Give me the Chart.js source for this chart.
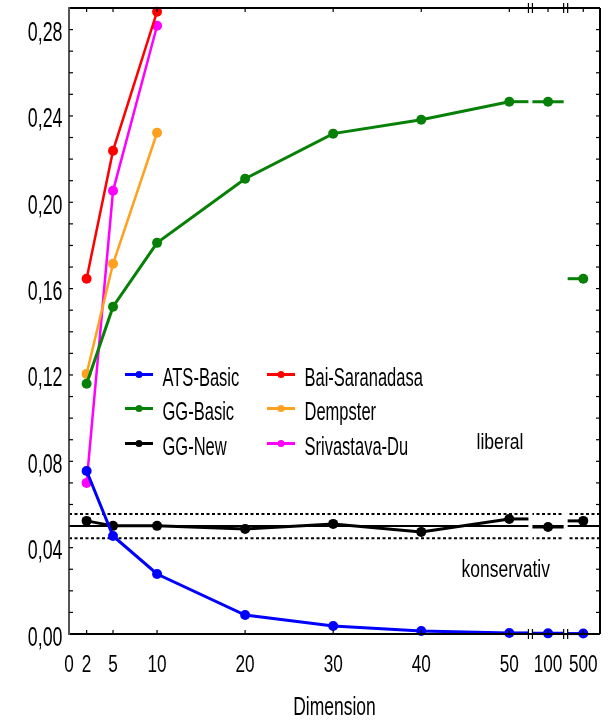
<!DOCTYPE html>
<html>
<head>
<meta charset="utf-8">
<script src="https://cdn.jsdelivr.net/npm/chart.js@4.4.0/dist/chart.umd.min.js"></script>
<style>
  html, body { margin: 0; padding: 0; background: #fff; }
  #wrap { width: 616px; height: 720px; }
</style>
</head>
<body>
<div id="wrap"><canvas id="myChart"></canvas></div>
<script>
'use strict';

// data
let dims = [2, 5, 10, 20, 30, 40, 50, 100, 500];
let dimsShort = [2, 5, 10];
let xTickLabels = [0, 2, 5, 10, 20, 30, 40, 50, 100, 500];
let yTickValues = [0, 0.04, 0.08, 0.12, 0.16, 0.20, 0.24, 0.28];

let atsBasic = [0.0755, 0.0454, 0.0278, 0.0088, 0.0037, 0.0014, 0.0005, 0.0003, 0.0002];
let ggBasic = [0.1159, 0.1516, 0.1812, 0.2109, 0.2318, 0.2382, 0.2466, 0.2466, 0.1646];
let ggNew = [0.0524, 0.0501, 0.0501, 0.0487, 0.0510, 0.0473, 0.0533, 0.0496, 0.0524];
let baiSaranadasa = [0.1646, 0.2239, 0.2883];
let dempster = [0.1205, 0.1715, 0.2322];
let srivastavaDu = [0.0700, 0.2053, 0.2818];

let alphaLevel = 0.05;
let alphaLow = 0.0444;
let alphaHigh = 0.0556;

let FONT = '"Liberation Sans", Arial, sans-serif';

// broken x axis: after 50 the values 100 and 500 get their own short pieces
let brokenDims = [100, 500];
let breakAt = [52.4, 56.4];
let xMax = 60.3;

function axisPos(d) {
  let i = brokenDims.indexOf(d);
  if (i < 0) return d;
  return breakAt[i] + 2;
}

function toPoints(xs, ys) {
  let pts = [];
  for (let i = 0; i < ys.length; i++) {
    pts.push({ x: axisPos(xs[i]), y: ys[i] });
  }
  return pts;
}

function makeSet(label, xs, ys, color, width) {
  return {
    label: label,
    data: toPoints(xs, ys),
    borderColor: color,
    backgroundColor: color,
    borderWidth: width,
    pointRadius: 5,
    pointHoverRadius: 5,
    pointBorderWidth: 0,
    tension: 0,
    clip: false,
    // no lines across the axis breaks, stubs are drawn by the plugin
    segment: {
      borderColor: ctx => ctx.p0DataIndex >= 6 ? 'rgba(0,0,0,0)' : color
    }
  };
}

let datasets = [
  makeSet('ATS-Basic', dims, atsBasic, '#0000ff', 3),
  makeSet('GG-Basic', dims, ggBasic, '#078007', 3),
  makeSet('GG-New', dims, ggNew, '#000000', 3),
  makeSet('Bai-Saranadasa', dimsShort, baiSaranadasa, '#ff0000', 2.5),
  makeSet('Dempster', dimsShort, dempster, '#ffa01e', 2.5),
  makeSet('Srivastava-Du', dimsShort, srivastavaDu, '#ff00ff', 2.5)
];

function hLine(ctx, x1, x2, y) {
  ctx.beginPath();
  ctx.moveTo(x1, y);
  ctx.lineTo(x2, y);
  ctx.stroke();
}

// narrow, tall lettering like the original figure
function drawText(ctx, text, x, y, size, sx, align) {
  ctx.save();
  ctx.translate(x, y);
  ctx.scale(sx, 1);
  ctx.font = size + 'px ' + FONT;
  ctx.textAlign = align;
  ctx.textBaseline = 'alphabetic';
  ctx.fillStyle = '#000';
  ctx.fillText(text, 0, 0);
  ctx.restore();
}

let refLines = {
  id: 'refLines',
  beforeDatasetsDraw(chart) {
    let ctx = chart.ctx;
    let a = chart.chartArea;
    let y = chart.scales.y;
    ctx.save();
    ctx.strokeStyle = '#000';
    ctx.lineWidth = 2;
    hLine(ctx, a.left, a.right, y.getPixelForValue(alphaLevel));
    ctx.setLineDash([3, 2.5]);
    hLine(ctx, a.left, a.right, y.getPixelForValue(alphaLow));
    hLine(ctx, a.left, a.right, y.getPixelForValue(alphaHigh));
    ctx.restore();
  }
};

let breaks = {
  id: 'breaks',
  afterDatasetsDraw(chart) {
    let ctx = chart.ctx;
    let a = chart.chartArea;
    let xs = chart.scales.x;
    let ys = chart.scales.y;
    ctx.save();
    // stubs for the pieces behind the breaks
    for (let d = 0; d < 3; d++) {
      let set = datasets[d];
      let meta = chart.getDatasetMeta(d);
      ctx.strokeStyle = set.borderColor;
      ctx.lineWidth = set.borderWidth;
      let p50 = meta.data[6];
      let p100 = meta.data[7];
      let p500 = meta.data[8];
      hLine(ctx, p50.x, xs.getPixelForValue(breakAt[0]), p50.y);
      hLine(ctx, xs.getPixelForValue(breakAt[0]), xs.getPixelForValue(breakAt[1]), p100.y);
      hLine(ctx, xs.getPixelForValue(breakAt[1]), p500.x + 2, p500.y);
    }
    // white gaps
    ctx.fillStyle = '#fff';
    for (let i = 0; i < breakAt.length; i++) {
      let bx = xs.getPixelForValue(breakAt[i]);
      ctx.fillRect(bx - 2, a.top + 2, 4, a.bottom - a.top - 3);
    }
    // frame
    ctx.lineWidth = 2;
    ctx.strokeStyle = '#000';
    hLine(ctx, a.left, a.right, a.top);
    hLine(ctx, a.left, a.right, a.bottom);
    ctx.beginPath();
    ctx.moveTo(a.right, a.top);
    ctx.lineTo(a.right, a.bottom);
    ctx.stroke();
    ctx.strokeStyle = '#555';
    ctx.beginPath();
    ctx.moveTo(a.left, a.top - 1);
    ctx.lineTo(a.left, a.bottom + 1);
    ctx.stroke();
    // ticks, pointing inward
    ctx.strokeStyle = '#000';
    ctx.lineWidth = 1.2;
    for (let v = 0.01; v < 0.29; v += 0.01) {
      let py = ys.getPixelForValue(v);
      hLine(ctx, a.left, a.left + 4, py);
      hLine(ctx, a.right - 4, a.right, py);
    }
    for (let i = 1; i < xTickLabels.length; i++) {
      let px = xs.getPixelForValue(axisPos(xTickLabels[i]));
      ctx.beginPath();
      ctx.moveTo(px, a.bottom);
      ctx.lineTo(px, a.bottom - 4);
      ctx.moveTo(px, a.top);
      ctx.lineTo(px, a.top + 4);
      ctx.stroke();
    }
    // break marks
    for (let i = 0; i < breakAt.length; i++) {
      let bx = xs.getPixelForValue(breakAt[i]);
      [a.top, a.bottom].forEach(ay => {
        ctx.beginPath();
        ctx.moveTo(bx - 2, ay - 5);
        ctx.lineTo(bx - 2, ay + 5);
        ctx.moveTo(bx + 2, ay - 5);
        ctx.lineTo(bx + 2, ay + 5);
        ctx.stroke();
      });
    }
    ctx.restore();
  }
};

let labels = {
  id: 'labels',
  afterDraw(chart) {
    let ctx = chart.ctx;
    let a = chart.chartArea;
    let xs = chart.scales.x;
    let ys = chart.scales.y;
    // tick labels
    yTickValues.forEach(v => {
      let py = ys.getPixelForValue(v);
      drawText(ctx, v.toFixed(2).replace('.', ','), a.left - 6.5, py + 11.5, 27, 0.66, 'right');
    });
    xTickLabels.forEach(d => {
      let px = xs.getPixelForValue(axisPos(d));
      drawText(ctx, String(d), px, a.bottom + 37.5, 23.5, 0.73, 'center');
    });
    drawText(ctx, 'Dimension', (a.left + a.right) / 2, 715, 25.5, 0.686, 'center');

    // legend
    let cols = [125, 267];
    let rows = [386, 420, 455];
    ctx.save();
    for (let i = 0; i < datasets.length; i++) {
      let lx = cols[Math.floor(i / 3)];
      let ly = rows[i % 3] - 11.5;
      ctx.strokeStyle = datasets[i].borderColor;
      ctx.lineWidth = 3;
      hLine(ctx, lx, lx + 28, ly);
      ctx.fillStyle = datasets[i].borderColor;
      ctx.beginPath();
      ctx.arc(lx + 14, ly, 3.5, 0, Math.PI * 2);
      ctx.fill();
      drawText(ctx, datasets[i].label, lx + 37.5, rows[i % 3], 26, 0.635, 'left');
    }
    ctx.restore();

    drawText(ctx, 'liberal', 476.5, 449, 22, 0.8, 'left');
    drawText(ctx, 'konservativ', 461.5, 576.5, 23, 0.76, 'left');
  }
};

let ctx = document.getElementById('myChart').getContext('2d');
new Chart(ctx, { // eslint-disable-line
  type: 'line',
  data: { datasets: datasets },
  options: {
    responsive: true,
    maintainAspectRatio: false,
    animation: false,
    layout: { padding: { left: 0, right: 16, top: 8, bottom: 0 } },
    plugins: {
      legend: { display: false },
      tooltip: { enabled: false }
    },
    scales: {
      x: {
        type: 'linear',
        min: 0,
        max: xMax,
        grid: { display: false, drawTicks: false },
        border: { display: false },
        afterBuildTicks: scale => {
          scale.ticks = xTickLabels.map(d => ({ value: axisPos(d) }));
        },
        afterFit: scale => { scale.height = 86; },
        ticks: { display: false }
      },
      y: {
        min: 0,
        max: 0.29,
        grid: { display: false, drawTicks: false },
        border: { display: false },
        afterBuildTicks: scale => {
          scale.ticks = yTickValues.map(v => ({ value: v }));
        },
        afterFit: scale => { scale.width = 69; },
        ticks: { display: false }
      }
    }
  },
  plugins: [refLines, breaks, labels]
});
</script>
</body>
</html>
